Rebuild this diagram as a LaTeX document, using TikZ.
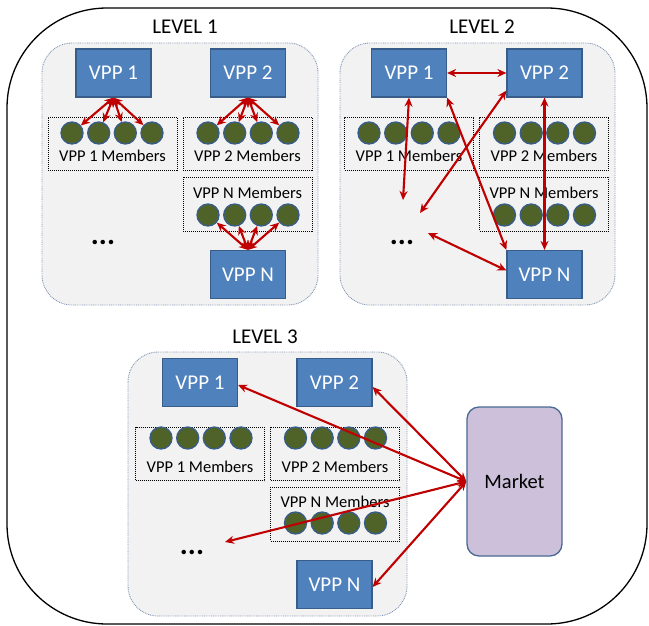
\documentclass[tikz,border=0pt]{standalone}
\usepackage{fontspec}
\setmainfont{Carlito}
\usetikzlibrary{arrows.meta}
\definecolor{vppblue}{HTML}{4F81BD}
\definecolor{vppedge}{HTML}{385D8A}
\definecolor{memgreen}{HTML}{4F6228}
\definecolor{arrred}{HTML}{C00000}
\definecolor{panelgray}{HTML}{F2F2F2}
\definecolor{paneledge}{HTML}{8496B4}
\definecolor{mktfill}{HTML}{CCC0DA}
\definecolor{mktedge}{HTML}{4A6A95}
\begin{document}
\begin{tikzpicture}[x=1pt,y=-1pt,
  panel/.style={draw=paneledge,fill=panelgray,line width=0.9pt,dash pattern=on 0.9pt off 0.9pt,rounded corners=30pt},
  vpp/.style={draw=vppedge,line width=1.2pt,fill=vppblue,text=white,font=\fontsize{21}{21}\selectfont,inner sep=0pt,minimum width=75pt,minimum height=48pt},
  membox/.style={draw=black,line width=0.9pt,dash pattern=on 1pt off 1pt,inner sep=0pt,minimum width=129pt,minimum height=53pt},
  memlabel/.style={font=\fontsize{16.5}{16.5}\selectfont,inner sep=0pt},
  member/.style={circle,draw=vppedge,fill=memgreen,line width=1.3pt,minimum size=22pt,inner sep=0pt},
  levellabel/.style={font=\fontsize{21}{21}\selectfont,inner sep=0pt},
  dots/.style={font=\fontsize{30}{30}\selectfont\bfseries,inner sep=0pt},
  link/.style={draw=arrred,line width=2.1pt,{Stealth[length=9pt,width=8pt]}-{Stealth[length=9pt,width=8pt]}},
  market/.style={draw=mktedge,fill=mktfill,line width=1.3pt,rounded corners=12pt,minimum width=95pt,minimum height=149pt,inner sep=0pt,font=\fontsize{20.5}{20.5}\selectfont}
]
\useasboundingbox (0,0) rectangle (649,626);
% outer frame
\draw[line width=1.3pt,rounded corners=100pt] (7,8) rectangle (647,624);

% ---------------- LEVEL 1 ----------------
\draw[panel] (42,43) rectangle (318,305);
\node[levellabel] (L1t) at (185,27) {LEVEL 1};
\node[vpp] (A1) at (113.5,73) {VPP 1};
\node[vpp] (A2) at (248,73) {VPP 2};
\node[vpp] (AN) at (248,274.5) {VPP N};
\node[membox] (AM1) at (112.5,143.5) {};
\node[memlabel] (AM1t) at (112.5,156) {VPP 1 Members};
\node[membox] (AM2) at (247.5,143.5) {};
\node[memlabel] (AM2t) at (247.5,156) {VPP 2 Members};
\node[membox,minimum height=54pt] (AMN) at (247.5,204) {};
\node[memlabel] (AMNt) at (247.5,193) {VPP N Members};
\foreach \i/\dx in {1/-40,2/-13.3,3/13.3,4/40}{
  \node[member] (a1\i) at (112+\dx,133) {};
  \node[member] (a2\i) at (248+\dx,133) {};
  \node[member] (aN\i) at (248+\dx,215) {};
}
\node[dots] (Ad) at (103,242) {...};
\foreach \i in {1,...,4}{
  \draw[link] (A1.south) -- (a1\i);
  \draw[link] (A2.south) -- (a2\i);
  \draw[link] (AN.north) -- (aN\i);
}

% ---------------- LEVEL 2 ----------------
\draw[panel] (340,43) rectangle (615,305);
\node[levellabel] (L2t) at (482,27) {LEVEL 2};
\node[vpp] (B1) at (409,73) {VPP 1};
\node[vpp] (B2) at (544.5,73) {VPP 2};
\node[vpp] (BN) at (544.5,274.5) {VPP N};
\node[membox] (BM1) at (409,143.5) {};
\node[memlabel] (BM1t) at (409,156) {VPP 1 Members};
\node[membox] (BM2) at (544,143.5) {};
\node[memlabel] (BM2t) at (544,156) {VPP 2 Members};
\node[membox,minimum height=54pt] (BMN) at (544,204) {};
\node[memlabel] (BMNt) at (544,193) {VPP N Members};
\foreach \i/\dx in {1/-40,2/-13.3,3/13.3,4/40}{
  \node[member] (b1\i) at (409+\dx,133) {};
  \node[member] (b2\i) at (544.5+\dx,133) {};
  \node[member] (bN\i) at (544.5+\dx,215) {};
}
\node[dots] (Bd) at (402,242) {...};
\coordinate (bx1) at (403,200);
\coordinate (bx2) at (420,213);
\coordinate (bx3) at (428,233);
\draw[link] (B1.east) -- (B2.west);
\draw[link] (B1.south) -- (bx1);
\draw[link] ([yshift=7pt]B2.south west) -- (bx2);
\draw[link] (B1.south east) -- (BN.north west);
\draw[link] (B2.south) -- (BN.north);
\draw[link] (bx3) -- ([yshift=4pt]BN.west);

% ---------------- LEVEL 3 ----------------
\draw[panel] (128,352) rectangle (407,616);
\node[levellabel] (L3t) at (265,337) {LEVEL 3};
\node[vpp] (C1) at (200,382.5) {VPP 1};
\node[vpp] (C2) at (334.5,382.5) {VPP 2};
\node[vpp] (CN) at (334.5,584.5) {VPP N};
\node[membox] (CM1) at (200,454) {};
\node[memlabel] (CM1t) at (200,467) {VPP 1 Members};
\node[membox] (CM2) at (335,454) {};
\node[memlabel] (CM2t) at (335,467) {VPP 2 Members};
\node[membox,minimum height=54pt] (CMN) at (335,514) {};
\node[memlabel] (CMNt) at (335,502) {VPP N Members};
\foreach \i/\dx in {1/-40,2/-13.3,3/13.3,4/40}{
  \node[member] (c1\i) at (201+\dx,438) {};
  \node[member] (c2\i) at (335.5+\dx,438) {};
  \node[member] (cN\i) at (335.5+\dx,523) {};
}
\node[dots] (Cd) at (192,552) {...};
\node[market] (MK) at (514.5,481.5) {Market};
\coordinate (cx) at (225,542);
\draw[link] (MK.west) -- ([yshift=-2.5pt]C1.east);
\draw[link] (MK.west) -- ([yshift=-4.5pt]C2.east);
\draw[link] (MK.west) -- (cx);
\draw[link] (MK.west) -- ([yshift=-2.5pt]CN.east);
\end{tikzpicture}
\end{document}
